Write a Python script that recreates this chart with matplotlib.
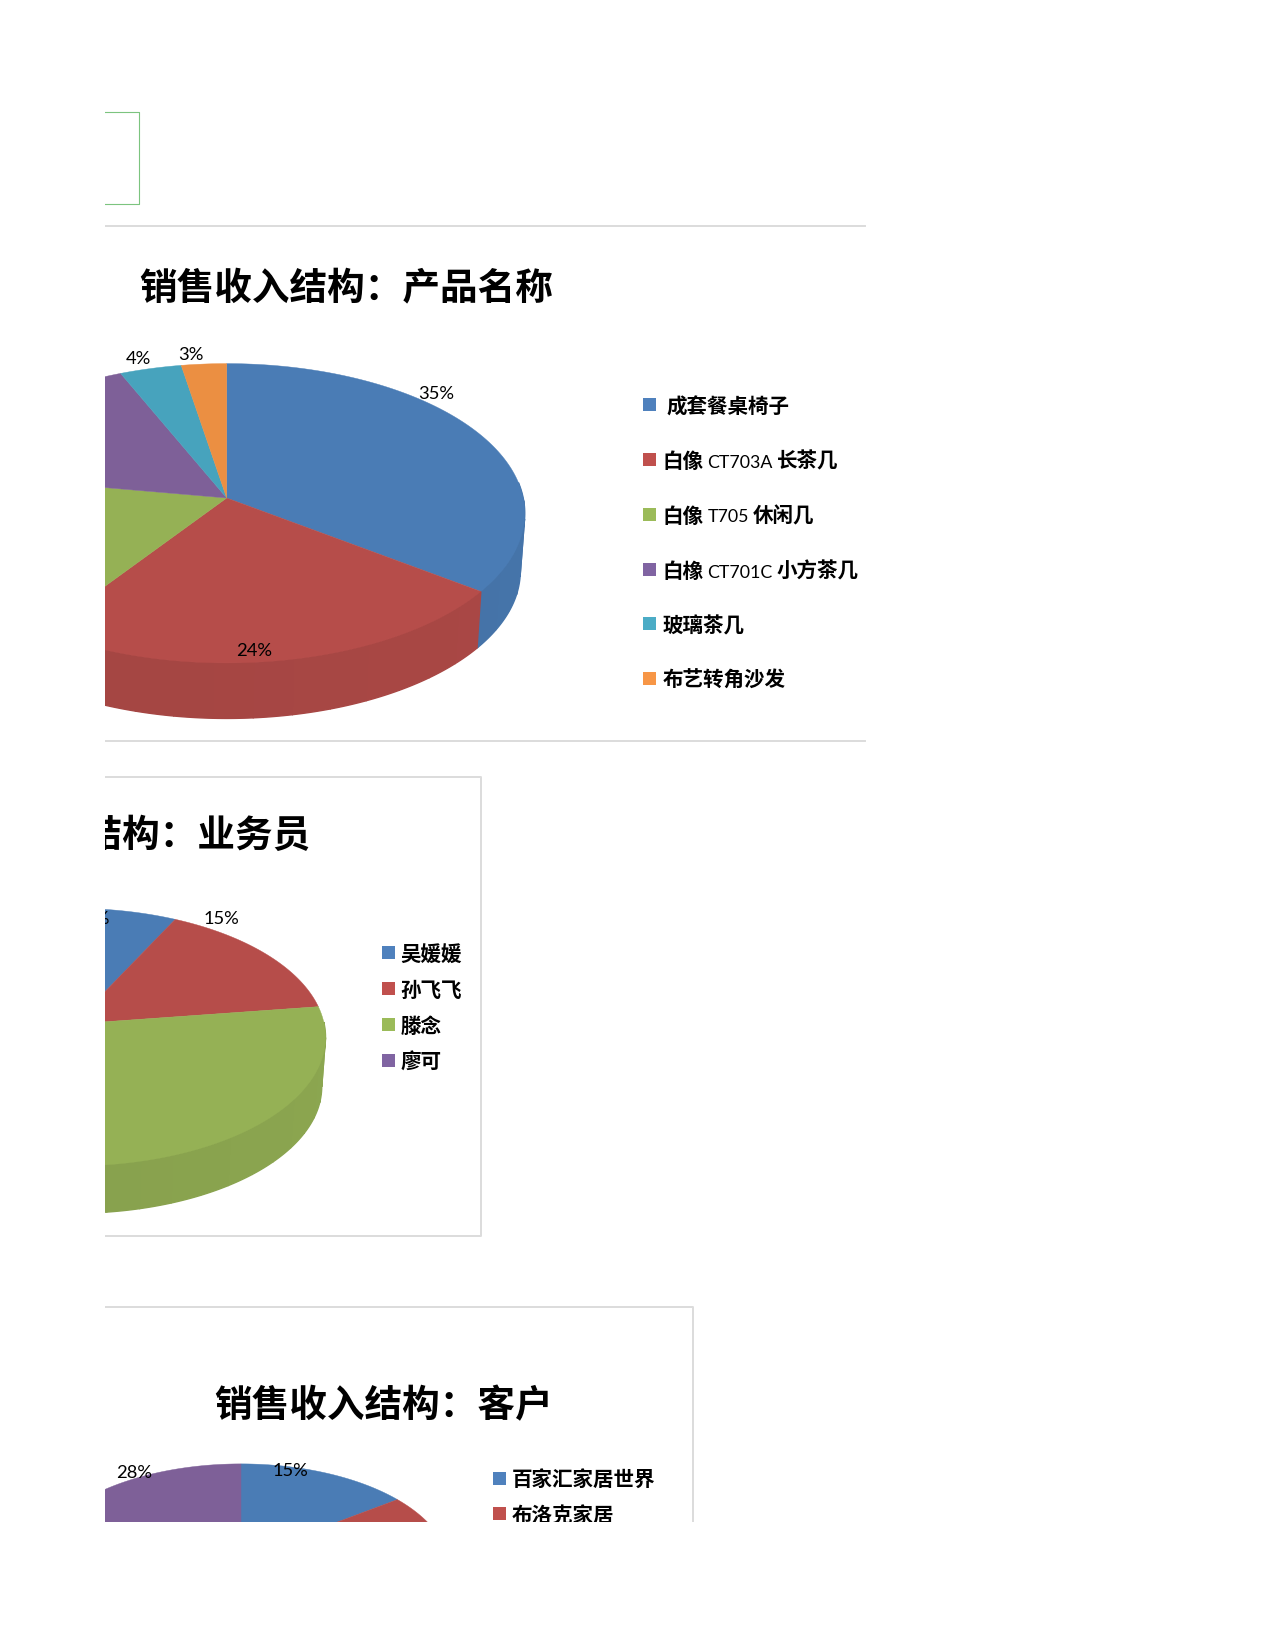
import numpy as np
import matplotlib
matplotlib.use("Agg")
import matplotlib.pyplot as plt

# shares (clockwise from 12 o'clock)
product_names = ["成套餐桌椅子", "白像CT703A长茶几", "白像T705休闲几", "白橡CT701C小方茶几", "玻璃茶几", "布艺转角沙发"]
product_share = [35.1, 24.5, 18.1, 15.9, 3.7, 2.7]
seller_names = ["吴媛媛", "孙飞飞", "滕念", "廖可"]
seller_share = [7.3, 15.5, 55.0, 22.2]
client_names = ["百家汇家居世界", "布洛克家居"]
client_share = [14.8, 25.0, 32.2, 28.0]

top_colors = ["#4A7CB5", "#B64D4A", "#95B155", "#7E6098", "#47A3BD", "#EB8F42"]
key_colors = ["#4F81BD", "#C0504D", "#9BBB59", "#8064A2", "#4BACC6", "#F79646"]

CJK = "Noto Sans CJK SC"
LATIN = "Lato"
TILT = 0.102


def project(theta, cx, cy, a, b):
    d = 1 + TILT * np.cos(theta)
    return cx + a * np.sin(theta) / d, cy - b * np.cos(theta) / d


def shade(color, f):
    return tuple(c * f for c in matplotlib.colors.to_rgb(color))


def draw_pie(ax, shares, cx, cy, a, b, depth):
    edges = np.cumsum([0] + list(shares)) / sum(shares) * 2 * np.pi
    # side wall first, top face goes over it
    for i in range(len(shares)):
        steps = np.arange(edges[i], edges[i + 1], np.radians(7))
        steps = np.append(steps, edges[i + 1])
        for t0, t1 in zip(steps[:-1], steps[1:]):
            if np.cos((t0 + t1) / 2) > 0.05:
                continue
            tt = np.linspace(t0, t1, 10)
            xa, ya = project(tt, cx, cy, a, b)
            xb, yb = project(tt[::-1], cx, cy, a * 0.985, b * 0.985)
            f = 0.94 - 0.06 * (t0 - np.pi / 2) / np.pi
            c = shade(top_colors[i], f)
            ax.fill(np.r_[xa, xb], np.r_[ya, yb + depth], facecolor=c, edgecolor=c, lw=1.0)
    for i in range(len(shares)):
        t = np.linspace(edges[i], edges[i + 1], 120)
        x, y = project(t, cx, cy, a, b)
        ax.fill(np.r_[cx, x], np.r_[cy, y], color=top_colors[i], lw=0.3)


def legend_row(ax, renderer, x_box, x_text, y, color, parts):
    ax.fill([x_box, x_box + 13, x_box + 13, x_box], [y - 6.5, y - 6.5, y + 6.5, y + 6.5], color=color, lw=0)
    x = x_text
    for s in parts:
        latin = s.isascii()
        t = ax.text(x, y + 8.5, s, family=LATIN if latin else CJK, fontweight="normal" if latin else "bold",
                    fontsize=12.8 if latin else 14.8, va="baseline", ha="left", clip_on=True)
        x += t.get_window_extent(renderer).width + 4


def pct(ax, x, y, s, ha="center"):
    ax.text(x, y + 1.5, s, family=LATIN, fontsize=13.2, ha=ha, va="center", clip_on=True)


fig = plt.figure(figsize=(12.75, 16.5), dpi=100)
ax = fig.add_axes([105 / 1275, (1650 - 1522) / 1650, 1170 / 1275, 1522 / 1650])
ax.set_xlim(105, 1275)
ax.set_ylim(1522, 0)
ax.axis("off")
renderer = fig.canvas.get_renderer()

# frames
ax.plot([105, 139, 139, 105], [112, 112, 203.5, 203.5], color="#7CC47F", lw=0.8)
ax.plot([105, 865], [226, 226], color="#DCDCDC", lw=1.4)
ax.plot([105, 865], [741, 741], color="#DCDCDC", lw=1.4)
ax.plot([105, 481, 481, 105], [777, 777, 1236, 1236], color="#DCDCDC", lw=1.4)
ax.plot([105, 693, 693], [1307, 1307, 1530], color="#DCDCDC", lw=1.4)

# chart 1
ax.text(139, 288, "销售收入结构：产品名称", family=CJK, fontweight="bold", fontsize=27.1, ha="left", va="center")
draw_pie(ax, product_share, 226.7, 498, 296.5, 148.1, 58)
pct(ax, 436.4, 392.6, "35%")
pct(ax, 253.8, 649.3, "24%")
pct(ax, 138, 358, "4%")
pct(ax, 191, 353.5, "3%")
rows1 = [["成套餐桌椅子"], ["白像", "CT703A", "长茶几"], ["白像", "T705", "休闲几"],
         ["白橡", "CT701C", "小方茶几"], ["玻璃茶几"], ["布艺转角沙发"]]
y1 = [404.8, 459, 514, 569, 623.7, 678.4]
for i, parts in enumerate(rows1):
    legend_row(ax, renderer, 643, 666.5 if i == 0 else 662.5, y1[i], key_colors[i], parts)

# chart 2, the left part is cut by the page crop
ax.text(310, 835, "销售收入结构：业务员", family=CJK, fontweight="bold", fontsize=27.1, ha="right", va="center", clip_on=True)
draw_pie(ax, seller_share, 73.5, 1024, 250.7, 127.4, 49.5)
pct(ax, 221.6, 917.3, "15%")
pct(ax, 109, 917.3, "7%", ha="right")
y2 = [952, 988.3, 1024.5, 1060.7]
for i, name in enumerate(seller_names):
    legend_row(ax, renderer, 382, 400.5, y2[i], key_colors[i], [name])

# chart 3
ax.text(384, 1406, "销售收入结构：客户", family=CJK, fontweight="bold", fontsize=27.1, ha="center", va="center")
draw_pie(ax, client_share, 241, 1558, 207, 103.7, 45)
pct(ax, 134.4, 1472, "28%")
pct(ax, 290.5, 1470, "15%")
y3 = [1478.6, 1513.8]
for i, name in enumerate(client_names):
    legend_row(ax, renderer, 493, 512, y3[i], key_colors[i], [name])

fig.savefig("out.png", dpi=100)
